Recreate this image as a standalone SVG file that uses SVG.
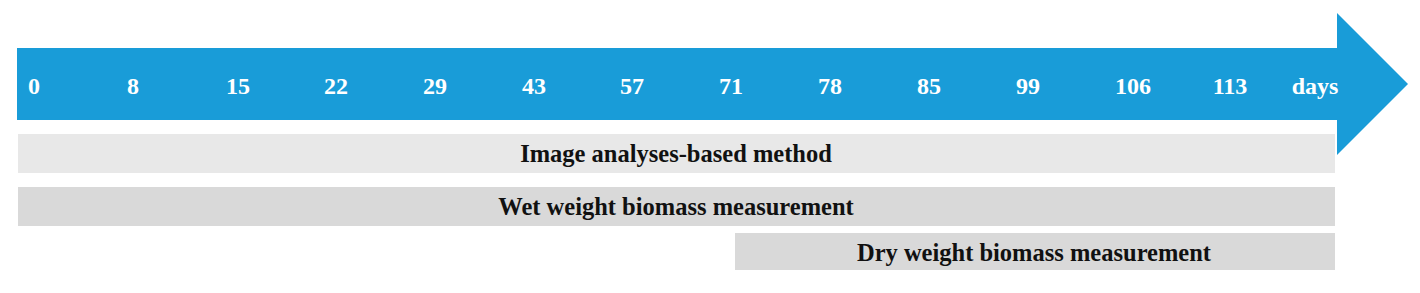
<svg xmlns="http://www.w3.org/2000/svg" width="1420" height="293" viewBox="0 0 1420 293">
<style>
.day{font-family:"Liberation Serif","Times New Roman",serif;font-weight:bold;font-size:24px;fill:#ffffff;text-anchor:middle}
.lbl{font-family:"Liberation Serif","Times New Roman",serif;font-weight:bold;font-size:24.5px;fill:#111111;text-anchor:middle}
</style>
<rect width="1420" height="293" fill="#ffffff"/>
<g id="timeline">
<polygon points="17,48 1337,48 1337,13 1408,84 1337,155 1337,120 17,120" fill="#199cd8"/>
<text class="day" x="34" y="94">0</text>
<text class="day" x="133" y="94">8</text>
<text class="day" x="238" y="94">15</text>
<text class="day" x="336" y="94">22</text>
<text class="day" x="435" y="94">29</text>
<text class="day" x="534" y="94">43</text>
<text class="day" x="632" y="94">57</text>
<text class="day" x="731" y="94">71</text>
<text class="day" x="830" y="94">78</text>
<text class="day" x="929" y="94">85</text>
<text class="day" x="1028" y="94">99</text>
<text class="day" x="1133" y="94">106</text>
<text class="day" x="1230" y="94">113</text>
<text class="day" x="1315" y="94">days</text>
</g>
<g id="image-analyses">
<rect x="18" y="134" width="1317" height="39" fill="#e8e8e8"/>
<text class="lbl" x="676" y="162">Image analyses-based method</text>
</g>
<g id="wet-weight">
<rect x="18" y="187" width="1317" height="39" fill="#d9d9d9"/>
<text class="lbl" x="676" y="215">Wet weight biomass measurement</text>
</g>
<g id="dry-weight">
<rect x="735" y="233" width="600" height="37" fill="#d9d9d9"/>
<text class="lbl" x="1034" y="261">Dry weight biomass measurement</text>
</g>
<g id="connectors"/>
</svg>
